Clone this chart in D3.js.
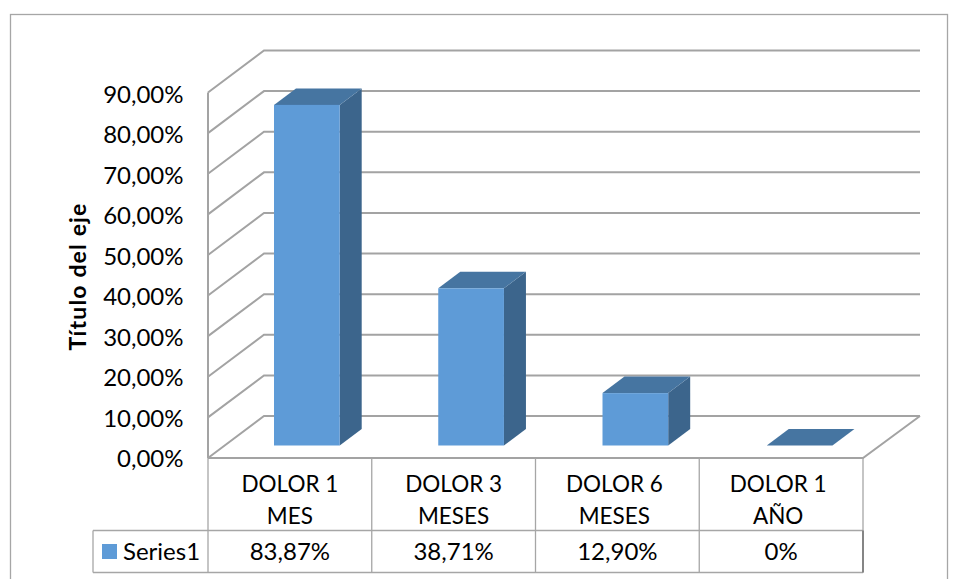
<!DOCTYPE html>
<html><head><meta charset="utf-8">
<style>html,body{margin:0;padding:0;background:#fff}svg{display:block}text{font-family:Lato,"Open Sans",sans-serif;fill:#000}</style>
<script src="https://cdn.jsdelivr.net/npm/d3@7/dist/d3.min.js"></script></head><body>
<svg id="c" width="960" height="579"></svg>
<script>
const categories=[["DOLOR 1","MES"],["DOLOR 3","MESES"],["DOLOR 6","MESES"],["DOLOR 1","AÑO"]];
const values=[83.87,38.71,12.90,0];
const valueLabels=["83,87%","38,71%","12,90%","0%"];
const yTicks=[0,10,20,30,40,50,60,70,80,90];
const seriesName="Series1";
const axisTitle="Título del eje";
const svg=d3.select("#c");
const grid="#a3a3a3", thin="#a6a6a6";
const y=d3.scaleLinear().domain([0,90]).range([458,92.5]);
const yLabel=d3.scaleLinear().domain([0,90]).range([467,102.5]);
const x=d3.scaleBand().domain(d3.range(4)).range([208,863]);
const xBars=d3.scaleBand().domain(d3.range(4)).range([208,865]);
const catShift=[0,0,-3,-3];
const dx=56, dy=-42, bdx=22, bdy=-16.5, barOff=66, barW=65.7, barLift=12.5;
const fs=22.5, numFs=24;
svg.append("rect").attr("x",10.5).attr("y",14.5).attr("width",937).attr("height",570).attr("fill","#fff").attr("stroke",thin).attr("stroke-width",1.3);
const line=(p,c,w)=>svg.append("path").attr("d",d3.line()(p)).attr("fill","none").attr("stroke",c).attr("stroke-width",w);
// walls
yTicks.forEach(t=>{
  line([[208,y(t)],[208+dx,y(t)+dy],[920,y(t)+dy]],grid,2);
});
line([[208,y(0)],[208,y(90)]],grid,2);
line([[208,y(0)],[863,y(0)],[863+dx+1,y(0)+dy]],grid,2);
// table
const T=[458,530.5,572.5];
x.domain().concat([4]).forEach(i=>{const px=i<4?x(i):863;line([[px,T[0]],[px,T[2]]],thin,1.3);});
line([[93,T[1]],[863,T[1]]],thin,1.3);
line([[93,T[2]],[863,T[2]]],thin,1.3);
line([[93,T[1]],[93,T[2]]],thin,1.3);
line([[863,T[1]],[863,T[2]]],"#858585",2);
// bars
const g=svg.append("g");
values.forEach((v,i)=>{
  const l=xBars(i)+barOff, r=l+barW, b=y(0)-barLift, t=y(v)-barLift;
  g.append("path").attr("d",d3.line()([[r,t],[r+bdx,t+bdy],[r+bdx,b+bdy],[r,b]])).attr("fill","#3c658c");
  g.append("path").attr("d",d3.line()([[l,t],[l+bdx,t+bdy],[r+bdx,t+bdy],[r,t]])).attr("fill","#4675a1");
  g.append("rect").attr("x",l).attr("y",t).attr("width",barW).attr("height",b-t).attr("fill","#5e9bd7");
});
// y labels
svg.append("g").selectAll("text").data(yTicks).join("text").attr("x",183.5).attr("y",t=>yLabel(t)).attr("text-anchor","end").attr("font-size",numFs).text(t=>d3.format(".2f")(t).replace(".",",")+"%");
// title
svg.append("text").attr("transform","translate(86,276.5) rotate(-90)").attr("text-anchor","middle").attr("font-size",23).attr("letter-spacing",1.15).attr("font-weight",700).text(axisTitle);
// categories
categories.forEach((c,i)=>{
  const cx=x(i)+x.bandwidth()/2;
  c.forEach((s,j)=>svg.append("text").attr("x",cx+catShift[i]).attr("y",491.5+j*32).attr("text-anchor","middle").attr("font-size",fs).text(s));
  svg.append("text").attr("x",cx).attr("y",560).attr("text-anchor","middle").attr("font-size",numFs).text(valueLabels[i]);
});
svg.append("rect").attr("x",102).attr("y",544).attr("width",15).attr("height",15).attr("fill","#5e9bd7");
svg.append("text").attr("x",123).attr("y",560).attr("font-size",numFs).text(seriesName);
</script></body></html>
